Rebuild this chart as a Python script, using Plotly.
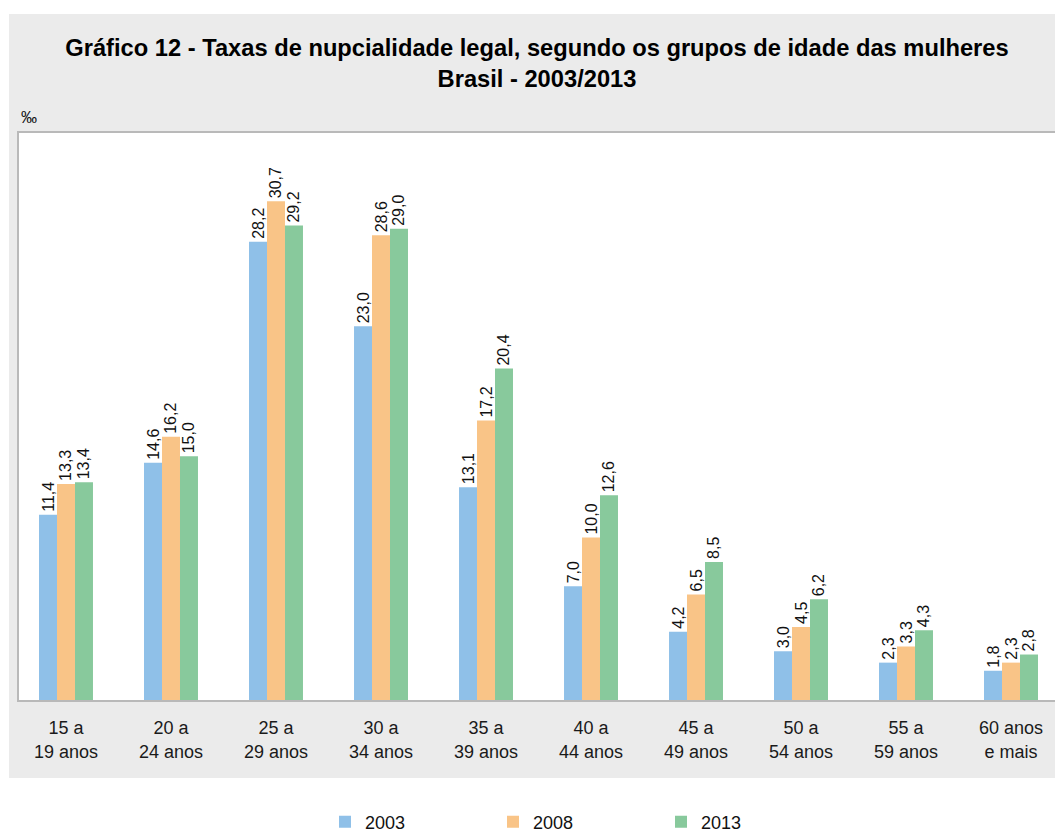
import plotly.graph_objects as go

categories = ["15 a<br>19 anos", "20 a<br>24 anos", "25 a<br>29 anos", "30 a<br>34 anos",
              "35 a<br>39 anos", "40 a<br>44 anos", "45 a<br>49 anos", "50 a<br>54 anos",
              "55 a<br>59 anos", "60 anos<br>e mais"]
series_names = ["2003", "2008", "2013"]
v2003 = [11.4, 14.6, 28.2, 23.0, 13.1, 7.0, 4.2, 3.0, 2.3, 1.8]
v2008 = [13.3, 16.2, 30.7, 28.6, 17.2, 10.0, 6.5, 4.5, 3.3, 2.3]
v2013 = [13.4, 15.0, 29.2, 29.0, 20.4, 12.6, 8.5, 6.2, 4.3, 2.8]
colors = ["#8fc0e8", "#f9c487", "#88c99c"]

FONT = "Liberation Sans, Arial, Helvetica, sans-serif"

def fmt(v):
    return f"{v:.1f}".replace(".", ",")

fig = go.Figure()
for name, vals, col in zip(series_names, [v2003, v2008, v2013], colors):
    fig.add_trace(go.Bar(
        x=categories, y=vals, name=name, marker=dict(color=col, line=dict(width=0)),
        text=[fmt(v) for v in vals], textposition="outside", textangle=-90,
        constraintext="none",
        textfont=dict(size=16, color="#111111", family=FONT),
        cliponaxis=False,
    ))

L, T, B = 19, 133, 132
W, H = 1055, 832
ph = H - T - B
pw = W - L

fig.update_layout(
    width=W, height=H,
    margin=dict(l=L, r=0, t=T, b=B, pad=0, autoexpand=False),
    paper_bgcolor="white", plot_bgcolor="white",
    barmode="group", bargap=0.486, bargroupgap=0,
    font=dict(family=FONT, color="#1a1a1a"),
    title=dict(
        text="<b>Gráfico 12 - Taxas de nupcialidade legal, segundo os grupos de idade das mulheres<br>Brasil - 2003/2013</b>",
        x=0.509, xref="container", xanchor="center",
        y=1 - 56 / H, yref="container", yanchor="middle",
        font=dict(size=23.7, color="#000000", family=FONT),
    ),
    showlegend=True,
    legend=dict(
        orientation="h", x=(325 - L) / pw, xanchor="left",
        y=(700 - 822) / ph, yanchor="middle",
        font=dict(size=18, color="#111111", family=FONT),
        entrywidth=123, entrywidthmode="pixels",
        bgcolor="rgba(0,0,0,0)", traceorder="normal",
    ),
    xaxis=dict(
        range=[-0.4476, 9.419], showgrid=False, zeroline=False, automargin=False,
        showline=True, mirror=True, linecolor="#b9b9b9", linewidth=1.5,
        ticks="", tickfont=dict(size=18, color="#1a1a1a", family=FONT),
        ticklabelstandoff=11,
    ),
    yaxis=dict(
        range=[0, 34.9], showgrid=False, zeroline=False, showticklabels=False,
        automargin=False,
        showline=True, mirror=False, linecolor="#b9b9b9", linewidth=1.5, ticks="",
    ),
    shapes=[
        dict(type="rect", xref="paper", yref="paper", layer="below",
             x0=(9 - L) / pw, x1=1.02, y0=(700 - 778) / ph, y1=(700 - 14) / ph,
             fillcolor="#ebebeb", line=dict(width=0)),
        dict(type="rect", xref="paper", yref="paper", layer="below",
             x0=0, x1=1.02, y0=0, y1=1,
             fillcolor="white", line=dict(width=0)),
    ],
    annotations=[
        dict(text="‰", xref="paper", yref="paper", x=(19 - L) / pw, y=(700 - 118) / ph,
             xanchor="left", yanchor="middle", showarrow=False,
             font=dict(size=16, color="#111111", family=FONT)),
    ],
)

fig.write_html(
    "out.html",
    config={"displayModeBar": False},
    post_script="document.body.style.margin='0';document.body.style.overflow='hidden';",
)
